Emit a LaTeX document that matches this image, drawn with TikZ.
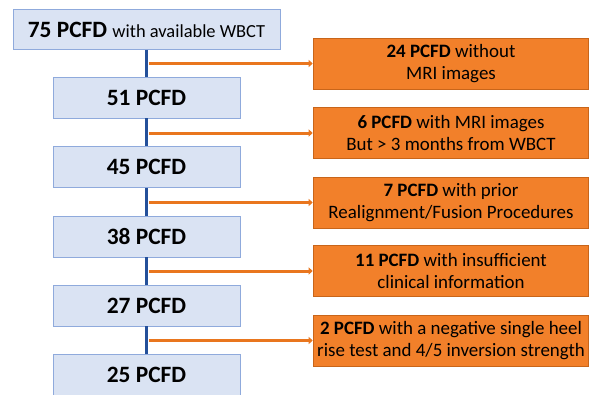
\documentclass[tikz,border=0pt]{standalone}
\usepackage{fontspec}
\setmainfont{Carlito}
\usetikzlibrary{arrows.meta}
\definecolor{bluefill}{HTML}{DAE3F3}
\definecolor{blueedge}{HTML}{8FAADC}
\definecolor{trunkblue}{HTML}{24509A}
\definecolor{orfill}{HTML}{F2802A}
\definecolor{oredge}{HTML}{C8651A}
\definecolor{arrowor}{HTML}{E9761E}
\tikzset{
  bluebox/.style={draw=blueedge, fill=bluefill, line width=0.8bp, minimum width=187bp, minimum height=41bp, inner sep=0pt, font=\fontsize{23.5}{26}\selectfont\bfseries},
  topbox/.style={bluebox, minimum width=267bp, minimum height=40bp},
  orbox/.style={draw=oredge, fill=orfill, line width=0.6bp, minimum width=275bp, minimum height=51bp, inner sep=0pt, align=center, font=\fontsize{19}{22}\selectfont},
  trunk/.style={draw=trunkblue, line width=3.4bp},
  exclude/.style={draw=arrowor, line width=3bp, -{Triangle[length=4bp,width=7bp]}, shorten >=0.5bp},
}
\begin{document}
\begin{tikzpicture}[x=1bp,y=-1bp]
\useasboundingbox (0,0) rectangle (590,394);
% main boxes
\node[topbox] (n0) at (146.5,29.5) {75 PCFD \fontsize{18.5}{20}\selectfont\mdseries with available WBCT};
\node[bluebox] (n1) at (146.5,97.5) {51 PCFD};
\node[bluebox] (n2) at (146.5,167) {45 PCFD};
\node[bluebox] (n3) at (146.5,236.5) {38 PCFD};
\node[bluebox] (n4) at (146.5,305.5) {27 PCFD};
\node[bluebox] (n5) at (146.5,375) {25 PCFD};
% orange boxes
\node[orbox] (o1) at (451,63.5) {\textbf{24 PCFD} without\\MRI images};
\node[orbox] (o2) at (451,133) {\textbf{6 PCFD} with MRI images\\But > 3 months from WBCT};
\node[orbox] (o3) at (451,202.5) {\textbf{7 PCFD} with prior\\Realignment/Fusion Procedures};
\node[orbox] (o4) at (451,271) {\textbf{11 PCFD} with insufficient\\clinical information};
\node[orbox] (o5) at (451,340.5) {\textbf{2 PCFD} with a negative single heel\\rise test and 4/5 inversion strength};
% trunk
\draw[trunk] (n0.south) -- (n1.north);
\draw[trunk] (n1.south) -- (n2.north);
\draw[trunk] (n2.south) -- (n3.north);
\draw[trunk] (n3.south) -- (n4.north);
\draw[trunk] (n4.south) -- (n5.north);
\coordinate (tr) at (149,0);
\draw[exclude] (tr |- o1.west) -- (o1.west);
\draw[exclude] (tr |- o2.west) -- (o2.west);
\draw[exclude] (tr |- o3.west) -- (o3.west);
\draw[exclude] (tr |- o4.west) -- (o4.west);
\draw[exclude] (tr |- o5.west) -- (o5.west);
\end{tikzpicture}
\end{document}
